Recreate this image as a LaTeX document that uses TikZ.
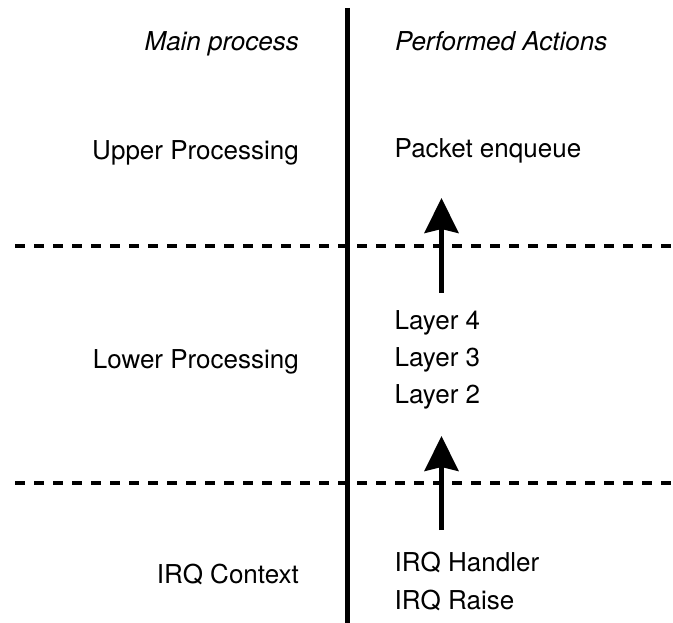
\documentclass[tikz,border=0pt]{standalone}
\usepackage{fontspec}
\setmainfont{TeX Gyre Heros}
\usetikzlibrary{arrows.meta}
\tikzset{
  lbl/.style={inner sep=0pt, font=\fontsize{26}{31}\selectfont},
  lefttxt/.style={lbl, anchor=base east},
  righttxt/.style={lbl, anchor=base west},
  headtxt/.style={font=\fontsize{26}{31}\selectfont\itshape},
  divider/.style={line width=4.5pt},
  sepline/.style={line width=4.5pt, dash pattern=on 10pt off 9pt},
  flow/.style={line width=4.5pt, -{Stealth[length=35pt,width=34pt,inset=4pt]}}
}

\begin{document}
\begin{tikzpicture}[x=1pt,y=-1pt]
\useasboundingbox (0,0) rectangle (673,623);
% column heads
\node[lefttxt, headtxt] (mainhd) at (299,51) {Main process};
\node[righttxt, headtxt] (perfhd) at (395,51) {Performed Actions};
% left column
\node[lefttxt] (upper) at (299,160) {Upper Processing};
\node[lefttxt] (lower) at (299,368) {Lower Processing};
\node[lefttxt] (irqctx) at (299,583) {IRQ Context};
% right column
\node[righttxt] (packet) at (394.5,158) {Packet enqueue};
\node[righttxt] (layerfour) at (394.5,329) {Layer 4};
\node[righttxt] (layerthree) at (394.5,366) {Layer 3};
\node[righttxt] (layertwo) at (394.5,403) {Layer 2};
\node[righttxt] (handler) at (394.5,571) {IRQ Handler};
\node[righttxt] (raise) at (394.5,609) {IRQ Raise};
% lines
\coordinate (divtop) at (347.5,8);
\coordinate (divbot) at (347.5,623);
\coordinate (upl) at (15,246);
\coordinate (upr) at (673,246);
\coordinate (lol) at (15,483);
\coordinate (lor) at (673,483);
\draw[divider] (divtop) -- (divbot);
\draw[sepline] (upl) -- (upr);
\draw[sepline] (lol) -- (lor);
% arrows
\coordinate (upfrom) at (441.5,293);
\coordinate (upto) at (441.5,198);
\coordinate (lofrom) at (441.5,530);
\coordinate (loto) at (441.5,436);
\draw[flow] (upfrom) -- (upto);
\draw[flow] (lofrom) -- (loto);
\end{tikzpicture}
\end{document}
